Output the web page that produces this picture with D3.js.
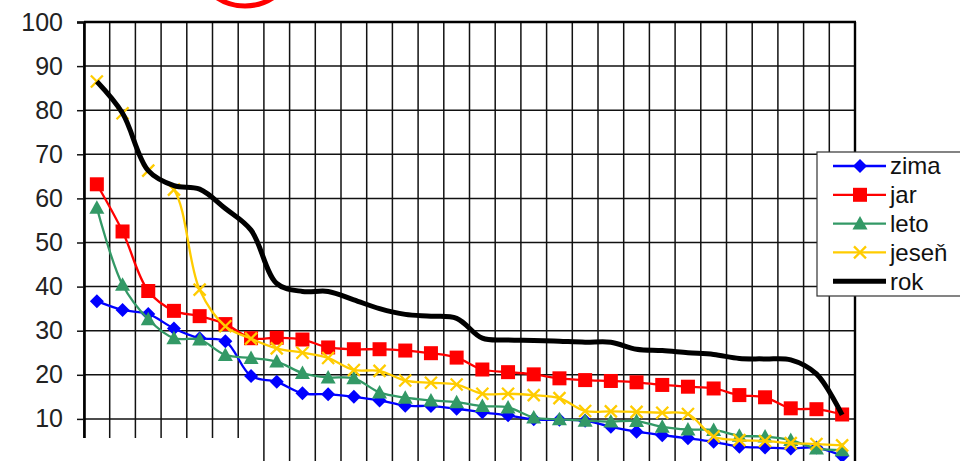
<!DOCTYPE html>
<html>
<head>
<meta charset="utf-8">
<script src="https://cdn.jsdelivr.net/npm/d3@7"></script>
<style>
  html, body { margin: 0; padding: 0; background: #fff; overflow: hidden; }
  svg { display: block; font-family: "Liberation Sans", Arial, sans-serif; }
</style>
</head>
<body>
<svg id="chart" width="960" height="461"></svg>
<script>
// Stations ordered by descending value, one column per station
const categories = [1, 2, 3, 4, 5, 6, 7, 8, 9, 10, 11, 12, 13, 14, 15,
                    16, 17, 18, 19, 20, 21, 22, 23, 24, 25, 26, 27, 28, 29, 30];

const zima  = [36.7, 34.7, 33.8, 30.5, 28.3, 27.6, 19.7, 18.4, 15.8, 15.6,
               15.0, 14.2, 13.0, 12.9, 12.3, 11.5, 10.8, 9.9, 9.8, 9.6,
               8.2, 7.1, 6.3, 5.6, 4.8, 3.7, 3.5, 3.3, 3.5, 1.6];
const jar   = [63.2, 52.5, 39.0, 34.5, 33.3, 31.5, 28.3, 28.4, 28.0, 26.2,
               25.8, 25.8, 25.5, 24.9, 23.9, 21.2, 20.6, 20.1, 19.2, 18.8,
               18.6, 18.3, 17.7, 17.3, 16.9, 15.4, 14.9, 12.4, 12.2, 11.0];
const leto  = [57.9, 40.4, 32.6, 28.3, 28.0, 24.5, 23.8, 23.0, 20.4, 19.4,
               19.2, 16.0, 14.8, 14.2, 13.8, 12.9, 12.6, 10.3, 9.9, 9.6,
               9.4, 9.5, 8.2, 7.6, 7.5, 6.2, 6.0, 5.2, 3.3, 2.9];
const jesen = [86.5, 79.3, 66.3, 62.0, 39.3, 31.0, 28.2, 26.0, 25.0, 23.8,
               21.1, 20.9, 18.7, 18.2, 17.8, 15.7, 15.7, 15.4, 14.7, 11.8,
               11.7, 11.6, 11.4, 11.1, 6.0, 5.2, 5.0, 4.5, 4.3, 4.0];
const rok   = [86.5, 79.3, 66.3, 62.9, 62.1, 57.7, 52.8, 40.7, 38.9, 38.9,
               37.0, 35.0, 33.7, 33.3, 32.8, 28.3, 27.9, 27.8, 27.6, 27.4,
               27.4, 25.8, 25.5, 25.0, 24.6, 23.7, 23.6, 23.4, 20.2, 10.9];

const yTicks = [10, 20, 30, 40, 50, 60, 70, 80, 90, 100];
const seriesNames = ["zima", "jar", "leto", "jeseň", "rok"];

const series = [
  { name: seriesNames[0], values: zima,  color: "#0000ff", width: 2.3, marker: "diamond" },
  { name: seriesNames[1], values: jar,   color: "#ff0000", width: 2.3, marker: "square" },
  { name: seriesNames[2], values: leto,  color: "#339966", width: 2.3, marker: "triangle" },
  { name: seriesNames[3], values: jesen, color: "#ffcc00", width: 2.3, marker: "cross" },
  { name: seriesNames[4], values: rok,   color: "#000000", width: 5,   marker: null }
];

const svg = d3.select("#chart");
const plot = { left: 84, right: 855, top: 22, bottom: 463 };

const x = d3.scaleBand().domain(categories).range([plot.left, plot.right]);
const y = d3.scaleLinear().domain([0, 100]).range([plot.bottom, plot.top]);
const cx = c => x(c) + x.bandwidth() / 2;

// grid: horizontal lines at the ticks, vertical lines between columns
const grid = svg.append("g").attr("stroke", "#111").attr("stroke-width", 1.5);
grid.selectAll("line.h").data(yTicks).join("line")
  .attr("x1", plot.left).attr("x2", plot.right)
  .attr("y1", d => y(d)).attr("y2", d => y(d));
const bounds = categories.map(c => x(c)).concat([plot.right]);
grid.selectAll("line.v").data(bounds).join("line")
  .attr("x1", d => d).attr("x2", d => d)
  .attr("y1", plot.top).attr("y2", plot.bottom);

// frame
svg.append("line").attr("x1", plot.left).attr("x2", plot.right + 1)
  .attr("y1", plot.top).attr("y2", plot.top)
  .attr("stroke", "#000").attr("stroke-width", 2.6);
svg.append("line").attr("x1", plot.right).attr("x2", plot.right)
  .attr("y1", plot.top).attr("y2", plot.bottom)
  .attr("stroke", "#000").attr("stroke-width", 2.4);

// y axis
const yAxis = d3.axisLeft(y).tickValues(yTicks).tickSize(7).tickPadding(14);
const ya = svg.append("g").attr("transform", `translate(${plot.left},0)`).call(yAxis);
ya.select(".domain").attr("stroke", "#000").attr("stroke-width", 2.6);
ya.selectAll(".tick line").attr("stroke", "#111").attr("stroke-width", 1.5);
ya.selectAll(".tick text")
  .attr("font-size", 25).attr("fill", "#222")
  .attr("font-family", "Liberation Sans, Arial, sans-serif");

// series lines
const line = d3.line()
  .x((d, i) => cx(categories[i]))
  .y(d => y(d))
  .curve(d3.curveCatmullRom.alpha(0.5));

function drawMarker(g, type, color) {
  if (type === "diamond") {
    g.append("path").attr("d", "M0,-7L7,0L0,7L-7,0Z").attr("fill", color);
  } else if (type === "square") {
    g.append("rect").attr("x", -7).attr("y", -7).attr("width", 14).attr("height", 14).attr("fill", color);
  } else if (type === "triangle") {
    g.append("path").attr("d", "M0,-7.5L7.5,6L-7.5,6Z").attr("fill", color);
  } else if (type === "cross") {
    g.append("path").attr("d", "M-6,-6L6,6M-6,6L6,-6")
      .attr("stroke", color).attr("stroke-width", 2.3).attr("fill", "none");
  }
}

series.forEach(s => {
  const g = svg.append("g");
  g.append("path").datum(s.values)
    .attr("d", line)
    .attr("fill", "none")
    .attr("stroke", s.color)
    .attr("stroke-width", s.width)
    .attr("stroke-linejoin", "round");
  if (s.marker) {
    s.values.forEach((v, i) => {
      const m = g.append("g").attr("transform", `translate(${cx(categories[i])},${y(v)})`);
      drawMarker(m, s.marker, s.color);
    });
  }
});

// blank strip under the first columns
svg.append("rect").attr("x", 0).attr("y", 438).attr("width", 252).attr("height", 30).attr("fill", "#fff");

// red ring at the top edge
svg.append("circle").attr("cx", 245).attr("cy", -45).attr("r", 51)
  .attr("fill", "none").attr("stroke", "#ff0000").attr("stroke-width", 5);

// legend
const lg = svg.append("g").attr("transform", "translate(817,152)");
lg.append("rect").attr("x", 0).attr("y", 0).attr("width", 160).attr("height", 144)
  .attr("fill", "#fff").attr("stroke", "#333").attr("stroke-width", 1.2);
series.forEach((s, k) => {
  const row = lg.append("g").attr("transform", `translate(0,${14 + k * 28.8})`);
  row.append("line").attr("x1", 16).attr("x2", 69).attr("y1", 0).attr("y2", 0)
    .attr("stroke", s.color).attr("stroke-width", s.width);
  if (s.marker) drawMarker(row.append("g").attr("transform", "translate(43,0)"), s.marker, s.color);
  row.append("text").attr("x", 73).attr("y", 0).attr("dy", "0.35em")
    .attr("font-size", 24).attr("fill", "#111").text(s.name);
});
</script>
</body>
</html>
